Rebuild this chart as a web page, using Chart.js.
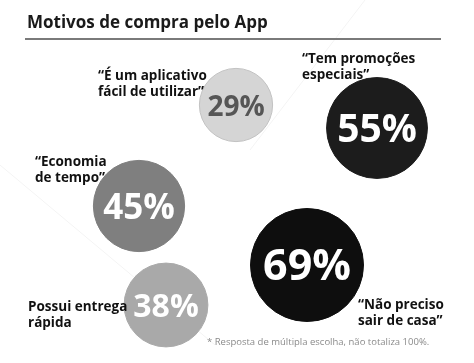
<!DOCTYPE html>
<html>
<head>
<meta charset="utf-8">
<script src="https://cdn.jsdelivr.net/npm/chart.js@4.4.1/dist/chart.umd.min.js"></script>
<style>
  html, body { margin:0; padding:0; background:#fff; }
  #wrap { width:474px; height:363px; position:relative; }
</style>
</head>
<body>
<div id="wrap"><canvas id="chart"></canvas></div>
<script>
// data
const reasons = [
  ['“É um aplicativo', 'fácil de utilizar”'],
  ['“Tem promoções', 'especiais”'],
  ['“Economia', 'de tempo”'],
  ['“Não preciso', 'sair de casa”'],
  ['Possui entrega', 'rápida']
];
const shares = [29, 55, 45, 69, 38];
const bubbleX = [236, 377, 139, 307, 166];
const bubbleY = [105, 128, 206, 265, 305];

const chartTitle = 'Motivos de compra pelo App';
const footnote = '* Resposta de múltipla escolha, não totaliza 100%.';

const FONT = '"Open Sans", "DejaVu Sans", sans-serif';
const fills = ['#d5d5d5', '#1c1c1c', '#7f7f7f', '#0e0e0e', '#a9a9a9'];
const pctColors = ['#565656', '#fff', '#fff', '#fff', '#fff'];
// where each callout text sits: [x, first baseline, align]
const callouts = [
  [98, 80, 'left'],
  [302, 63, 'left'],
  [35, 166, 'left'],
  [358, 309, 'left'],
  [28, 311, 'left']
];

function radiusFor(v){ return 6.8 * Math.sqrt(v); }

const annotate = {
  id: 'annotate',
  beforeDatasetsDraw(chart){
    const ctx = chart.ctx;
    ctx.save();
    // faint background strokes
    ctx.strokeStyle = '#f4f4f4';
    ctx.lineWidth = 1;
    ctx.beginPath(); ctx.moveTo(365, 0); ctx.lineTo(250, 150); ctx.stroke();
    ctx.beginPath(); ctx.moveTo(0, 165); ctx.lineTo(215, 345); ctx.stroke();
    // title
    ctx.fillStyle = '#1a1a1a';
    ctx.font = 'bold 17px ' + FONT;
    ctx.textBaseline = 'alphabetic';
    ctx.textAlign = 'left';
    ctx.fillText(chartTitle, 27, 28);
    ctx.strokeStyle = '#7a7a7a';
    ctx.lineWidth = 2;
    ctx.beginPath(); ctx.moveTo(25, 39); ctx.lineTo(441, 39); ctx.stroke();
    ctx.restore();
  },
  afterDatasetsDraw(chart){
    const ctx = chart.ctx;
    const meta = chart.getDatasetMeta(0);
    ctx.save();
    meta.data.forEach((el, i) => {
      const r = radiusFor(shares[i]);
      ctx.fillStyle = pctColors[i];
      ctx.font = 'bold ' + Math.round(r * 0.77) + 'px ' + FONT;
      ctx.textAlign = 'center';
      ctx.textBaseline = 'middle';
      ctx.fillText(shares[i] + '%', el.x, el.y + 3);
    });
    // callouts
    ctx.fillStyle = '#111';
    ctx.font = 'bold 13.5px ' + FONT;
    ctx.textBaseline = 'alphabetic';
    reasons.forEach((lines, i) => {
      const c = callouts[i];
      ctx.textAlign = c[2];
      lines.forEach((t, j) => ctx.fillText(t, c[0], c[1] + j * 15.5));
    });
    // footnote
    ctx.fillStyle = '#8a8a8a';
    ctx.font = '9.5px ' + FONT;
    ctx.textAlign = 'left';
    ctx.fillText(footnote, 207, 345);
    ctx.restore();
  }
};

new Chart(document.getElementById('chart'), {
  type: 'bubble',
  data: {
    datasets: [{
      data: shares.map((v, i) => ({ x: bubbleX[i], y: bubbleY[i], r: radiusFor(v) })),
      backgroundColor: fills,
      borderColor: fills.map((f, i) => i === 0 ? '#c2c2c2' : f),
      borderWidth: 1,
      hoverRadius: 0,
      clip: false
    }]
  },
  options: {
    responsive: true,
    maintainAspectRatio: false,
    animation: false,
    layout: { padding: 0, autoPadding: false },
    plugins: { legend: { display: false }, tooltip: { enabled: false } },
    scales: {
      x: { type: 'linear', min: 0, max: 474, display: false },
      y: { type: 'linear', min: 0, max: 363, reverse: true, display: false }
    }
  },
  plugins: [annotate]
});
</script>
</body>
</html>
